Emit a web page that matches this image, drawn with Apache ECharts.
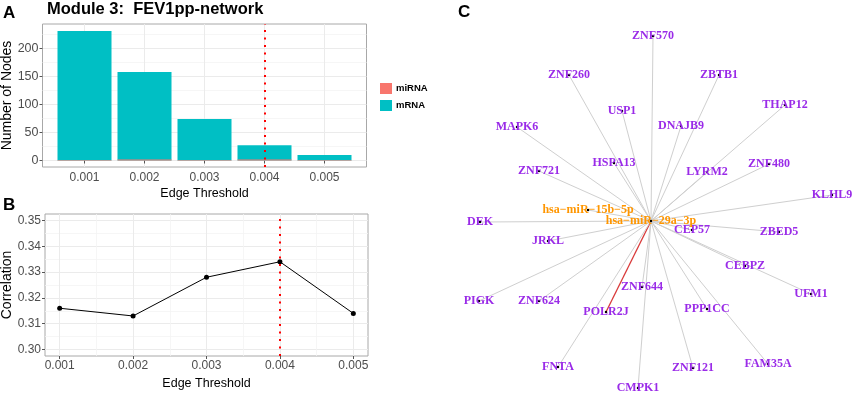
<!DOCTYPE html>
<html lang="en">
<head>
    <meta charset="UTF-8">
    <title>Module 3: FEV1pp-network</title>
    <script src="https://cdn.jsdelivr.net/npm/echarts@6/dist/echarts.min.js"></script>
    <style>
        html, body { margin: 0; padding: 0; background: #fff; }
    </style>
</head>
<body>
<div id="main" style="width: 858px;height:401px;"></div>
</body>
<script>
    // 数据
    var thresholds = ['0.001', '0.002', '0.003', '0.004', '0.005'];
    var mrnaNodes = [231, 158, 74, 27, 10];
    var mirnaNodes = [1, 2, 1, 2, 1];
    var correlation = [0.316, 0.313, 0.328, 0.334, 0.314];
    var chosen = '0.004';

    var countTicks = [0, 50, 100, 150, 200];
    var countMinor = [25, 75, 125, 175, 225];
    var corrTicks = [0.30, 0.31, 0.32, 0.33, 0.34, 0.35];
    var corrMinor = [0.305, 0.315, 0.325, 0.335, 0.345];

    // 网络节点 (图中位置)
    var geneNames = ['ZNF570', 'ZNF260', 'ZBTB1', 'USP1', 'THAP12', 'MAPK6', 'DNAJB9', 'HSPA13', 'LYRM2',
        'ZNF480', 'ZNF721', 'KLHL9', 'DEK', 'JRKL', 'CEP57', 'ZBED5', 'CEBPZ', 'PIGK', 'ZNF624', 'ZNF644',
        'UFM1', 'POLR2J', 'PPP1CC', 'FNTA', 'ZNF121', 'FAM35A', 'CMPK1'];
    var geneX = [653, 569, 719, 622, 785, 517, 681, 614, 707,
        769, 539, 832, 480, 548, 692, 779, 745, 479, 539, 642,
        811, 606, 707, 558, 693, 768, 638];
    var geneY = [36, 75, 75, 111, 105, 127, 126, 163, 172,
        164, 171, 195, 222, 241, 230, 232, 266, 301, 301, 287,
        294, 312, 309, 367, 368, 364, 388];
    var mirNames = ['hsa\u2212miR\u221215b\u22125p', 'hsa\u2212miR\u221229a\u22123p'];
    var mirX = [588, 651];
    var mirY = [210, 221];
    var hub = mirNames[1];
    var redLinkGene = 'POLR2J';

    var pos = thresholds.map(function (t, i) { return i + 1; });
    var chosenPos = thresholds.indexOf(chosen) + 1;

    var gridCol = '#EBEBEB';
    var minorCol = '#F4F4F4';
    var tickCol = '#555';
    var labelCol = '#4D4D4D';
    var sans = 'Liberation Sans, Arial, sans-serif';

    function fmtThreshold(v) {
        return thresholds[Math.round(v) - 1] || '';
    }

    var nodes = [];
    for (var i = 0; i < geneNames.length; i++) {
        nodes.push({
            name: geneNames[i], value: [geneX[i], geneY[i]],
            label: {color: '#9A2BE8'}
        });
    }
    for (var j = 0; j < mirNames.length; j++) {
        nodes.push({
            name: mirNames[j], value: [mirX[j], mirY[j]],
            label: {color: '#FF9600'}
        });
    }
    var links = [];
    geneNames.forEach(function (g) {
        var l = {source: g, target: hub};
        if (g === redLinkGene) {
            l.lineStyle = {color: '#D93A3A', width: 1.3, opacity: 1};
        }
        links.push(l);
    });
    links.push({source: mirNames[0], target: hub});

    var myChart = echarts.init(document.getElementById('main'));

    var option = {
        animation: false,
        backgroundColor: '#fff',
        textStyle: {fontFamily: sans},
        graphic: [
            {type: 'text', left: 3, top: 5, style: {text: 'A', font: 'bold 17px ' + sans, fill: '#000'}},
            {type: 'text', left: 47, top: 1, style: {text: 'Module 3:  FEV1pp-network', font: 'bold 16.5px ' + sans, fill: '#000'}},
            {type: 'text', left: 3, top: 197, style: {text: 'B', font: 'bold 17px ' + sans, fill: '#000'}},
            {type: 'text', left: 458, top: 4, style: {text: 'C', font: 'bold 17px ' + sans, fill: '#000'}}
        ],
        legend: {
            data: ['miRNA', 'mRNA'],
            orient: 'vertical',
            left: 380, top: 83, padding: 0,
            itemWidth: 12, itemHeight: 11, itemGap: 6,
            icon: 'rect',
            textStyle: {fontSize: 9.5, fontWeight: 'bold', color: '#000', padding: [0, 0, 0, -1]}
        },
        grid: [
            {left: 42.5, top: 24, width: 324, height: 143, outerBoundsMode: 'none',
                show: true, borderColor: '#A8A8A8', borderWidth: 1, backgroundColor: '#fff'},
            {left: 45, top: 214, width: 323, height: 142, outerBoundsMode: 'none',
                show: true, borderColor: '#A8A8A8', borderWidth: 1, backgroundColor: '#fff'},
            {left: 440, top: 0, width: 418, height: 401, outerBoundsMode: 'none'}
        ],
        xAxis: [
            {
                gridIndex: 0, type: 'value', min: 0.3, max: 5.7,
                name: 'Edge Threshold', nameLocation: 'middle', nameGap: 20,
                nameTextStyle: {fontSize: 12.5, color: '#000'},
                axisLine: {show: false},
                axisTick: {show: true, length: 3, lineStyle: {color: tickCol}, customValues: pos},
                axisLabel: {customValues: pos, formatter: fmtThreshold, fontSize: 12, color: labelCol, margin: 5},
                splitLine: {show: true, lineStyle: {color: gridCol, width: 1}}
            },
            {
                gridIndex: 1, type: 'value', min: 0.8, max: 5.2,
                name: 'Edge Threshold', nameLocation: 'middle', nameGap: 21,
                nameTextStyle: {fontSize: 12.5, color: '#000'},
                axisLine: {show: false},
                axisTick: {show: true, length: 3, lineStyle: {color: tickCol}, customValues: pos},
                axisLabel: {customValues: pos, formatter: fmtThreshold, fontSize: 12, color: labelCol, margin: 4},
                splitLine: {show: true, lineStyle: {color: gridCol, width: 1}}
            },
            {
                gridIndex: 1, type: 'value', min: 0.8, max: 5.2,
                axisLine: {show: false},
                axisTick: {show: false, customValues: [1.5, 2.5, 3.5, 4.5]},
                axisLabel: {show: false, customValues: [1.5, 2.5, 3.5, 4.5]},
                splitLine: {show: true, lineStyle: {color: minorCol, width: 0.8}}
            },
            {gridIndex: 2, type: 'value', min: 440, max: 858, show: false}
        ],
        yAxis: [
            {
                gridIndex: 0, type: 'value', min: -11.6, max: 243.6,
                name: 'Number of Nodes', nameLocation: 'middle', nameGap: 24,
                nameTextStyle: {fontSize: 14, color: '#000'},
                axisLine: {show: false},
                axisTick: {show: true, length: 3, lineStyle: {color: tickCol}, customValues: countTicks},
                axisLabel: {customValues: countTicks, fontSize: 12.5, color: labelCol, margin: 4},
                splitLine: {show: true, lineStyle: {color: gridCol, width: 1}}
            },
            {
                gridIndex: 0, type: 'value', min: -11.6, max: 243.6,
                axisLine: {show: false},
                axisTick: {show: false, customValues: countMinor},
                axisLabel: {show: false, customValues: countMinor},
                splitLine: {show: true, lineStyle: {color: minorCol, width: 0.8}}
            },
            {
                gridIndex: 1, type: 'value', min: 0.2975, max: 0.3525,
                name: 'Correlation', nameLocation: 'middle', nameGap: 27,
                nameTextStyle: {fontSize: 14, color: '#000'},
                axisLine: {show: false},
                axisTick: {show: true, length: 3, lineStyle: {color: tickCol}, customValues: corrTicks},
                axisLabel: {customValues: corrTicks, fontSize: 12, color: labelCol, margin: 4,
                    formatter: function (v) { return v.toFixed(2); }},
                splitLine: {show: true, lineStyle: {color: gridCol, width: 1}}
            },
            {
                gridIndex: 1, type: 'value', min: 0.2975, max: 0.3525,
                axisLine: {show: false},
                axisTick: {show: false, customValues: corrMinor},
                axisLabel: {show: false, customValues: corrMinor},
                splitLine: {show: true, lineStyle: {color: minorCol, width: 0.8}}
            },
            {gridIndex: 2, type: 'value', min: 0, max: 401, inverse: true, show: false}
        ],
        series: [
            {
                name: 'mRNA', type: 'bar', stack: 'nodes',
                xAxisIndex: 0, yAxisIndex: 0, barWidth: 54,
                itemStyle: {color: '#00BFC4'},
                data: pos.map(function (p, i) { return [p, mrnaNodes[i]]; }),
                markLine: {
                    silent: true, symbol: 'none', label: {show: false},
                    lineStyle: {color: '#FF0000', type: [2, 5.5], width: 2},
                    data: [{xAxis: chosenPos}]
                }
            },
            {
                name: 'miRNA', type: 'bar', stack: 'nodes',
                xAxisIndex: 0, yAxisIndex: 0, barWidth: 54,
                itemStyle: {color: '#F8766D'},
                data: pos.map(function (p, i) { return [p, mirnaNodes[i]]; })
            },
            {
                name: 'Correlation', type: 'line',
                xAxisIndex: 1, yAxisIndex: 2,
                symbol: 'circle', symbolSize: 5,
                itemStyle: {color: '#000'},
                lineStyle: {color: '#000', width: 1},
                data: pos.map(function (p, i) { return [p, correlation[i]]; }),
                markLine: {
                    silent: true, symbol: 'none', label: {show: false},
                    lineStyle: {color: '#FF0000', type: [2, 5.5], width: 2},
                    data: [{xAxis: chosenPos}]
                }
            },
            {
                name: 'network', type: 'graph', coordinateSystem: 'cartesian2d',
                xAxisIndex: 3, yAxisIndex: 4,
                symbol: 'circle', symbolSize: 2.5,
                itemStyle: {color: '#000'},
                label: {
                    show: true, position: 'inside', formatter: '{b}',
                    fontFamily: 'Liberation Serif, Times New Roman, serif',
                    fontWeight: 'bold', fontSize: 12
                },
                lineStyle: {color: '#CFCFCF', width: 1, opacity: 1},
                data: nodes,
                links: links
            }
        ]
    };

    myChart.setOption(option);
</script>
</html>
